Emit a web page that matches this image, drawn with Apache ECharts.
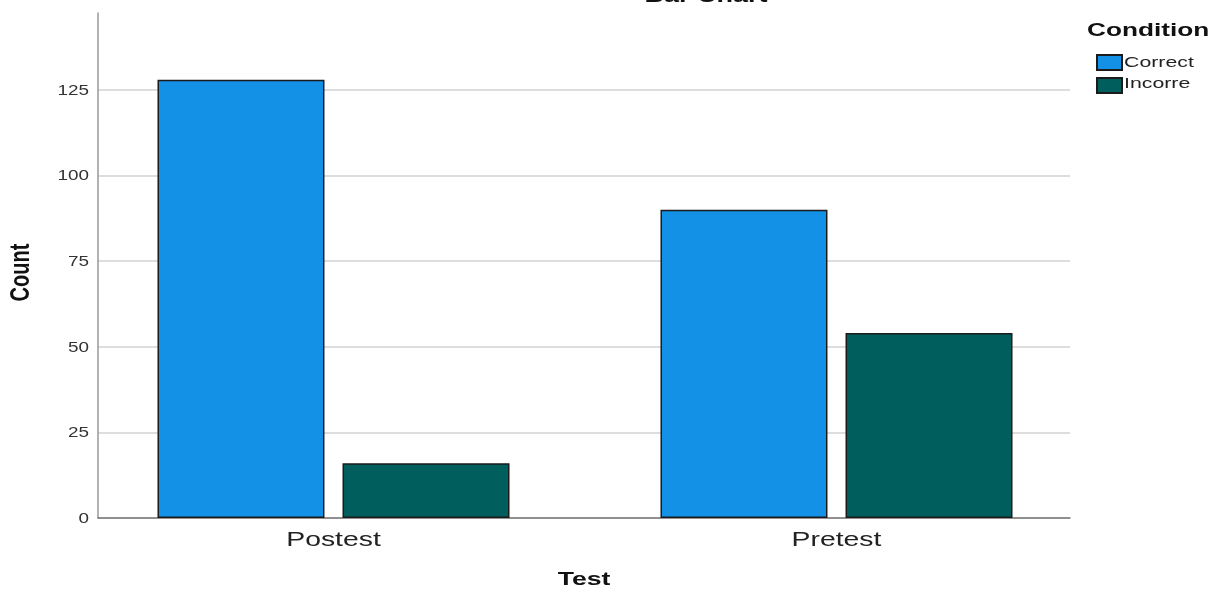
<!DOCTYPE html>
<html>
<head>
<meta charset="utf-8">
<script src="https://cdn.jsdelivr.net/npm/echarts@6/dist/echarts.min.js"></script>
<style>
html,body{margin:0;padding:0;background:#fff;}
#chart{width:1220px;height:590px;}
</style>
</head>
<body>
<div id="chart"></div>
<script>
const categories = ['Postest', 'Pretest'];
const seriesNames = ['Correct', 'Incorre'];
const correctValues = [128, 90];
const incorrectValues = [16, 54];
const yTicks = [0, 25, 50, 75, 100, 125];
const yMax = 147.5;
const titleText = 'Bar Chart';
const legendTitle = 'Condition';
const xName = 'Test';
const yName = 'Count';

const FONT = 'Liberation Sans, Arial, sans-serif';
const SX = 1.35; // horizontal stretch of the reference's text
const chart = echarts.init(document.getElementById('chart'), null, {renderer: 'canvas'});

const splitColors = yTicks.map(() => '#d2d2d2').concat(['rgba(0,0,0,0)']);

chart.setOption({
  animation: false,
  backgroundColor: '#ffffff',
  grid: [
    {left: 82, right: 132, top: 13, bottom: 72, outerBoundsMode: 'none', containLabel: false},
    {left: 98, right: 150, top: 13, bottom: 72, outerBoundsMode: 'none', containLabel: false}
  ],
  xAxis: [
    {
      gridIndex: 0, type: 'category', data: categories,
      axisLine: {show: false}, axisTick: {show: false}, axisLabel: {show: false}
    },
    {
      gridIndex: 1, type: 'category', data: categories,
      axisLine: {show: true, lineStyle: {color: '#777', width: 1.5}},
      axisTick: {show: false}, axisLabel: {show: false}
    }
  ],
  yAxis: [
    {
      gridIndex: 0, type: 'value', min: 0, max: yMax, interval: 25,
      show: false, splitLine: {show: false}
    },
    {
      gridIndex: 1, type: 'value', min: 0, max: yMax, interval: 25,
      axisLine: {show: true, lineStyle: {color: '#999', width: 1.5}},
      axisTick: {show: false}, axisLabel: {show: false},
      splitLine: {show: true, lineStyle: {color: splitColors, width: 1.5}}
    }
  ],
  legend: {
    orient: 'vertical', left: 1096, top: 54, itemWidth: 25, itemHeight: 15, itemGap: 6,
    icon: 'rect', padding: 0,
    data: seriesNames,
    formatter: () => '',
    textStyle: {fontSize: 8, lineHeight: 8, padding: 0}
  },
  series: [
    {
      name: seriesNames[0], type: 'bar', xAxisIndex: 0, yAxisIndex: 0,
      data: correctValues, barWidth: 167, barGap: '10.8%',
      itemStyle: {color: '#1391E7', borderColor: '#1b1b1b', borderWidth: 1.5}
    },
    {
      name: seriesNames[1], type: 'bar', xAxisIndex: 0, yAxisIndex: 0,
      data: incorrectValues, barWidth: 167, barGap: '10.8%',
      itemStyle: {color: '#005E5C', borderColor: '#1b1b1b', borderWidth: 1.5}
    }
  ]
});

// Text drawn as graphic elements so it can carry the reference's horizontal stretch.
const g = [];
function txt(text, x, y, font, align, vAlign, fill, extra) {
  g.push(Object.assign({
    type: 'text', x: x, y: y, scaleX: SX, z: 100,
    style: {text: text, font: font, fill: fill || '#222', align: align, verticalAlign: vAlign}
  }, extra || {}));
}
// y tick labels
yTicks.forEach(v => {
  const py = chart.convertToPixel({yAxisIndex: 1}, v);
  txt(String(v), 89, py + 1, '14px ' + FONT, 'right', 'middle', '#333');
});
// category labels
categories.forEach(c => {
  const px = chart.convertToPixel({xAxisIndex: 0}, c);
  txt(c, px, 540, '21px ' + FONT, 'center', 'middle', '#222');
});
// axis names
const gridRect = chart.getModel().getComponent('grid', 1).coordinateSystem.getRect();
txt(xName, gridRect.x + gridRect.width / 2, 580, 'bold 19px ' + FONT, 'center', 'middle', '#111', {scaleX: 1.4});
g.push({
  type: 'text', x: 22, y: gridRect.y + gridRect.height / 2 + 7, rotation: Math.PI / 2, scaleX: 1, scaleY: SX, z: 100,
  style: {text: yName, font: 'bold 20px ' + FONT, fill: '#111', align: 'center', verticalAlign: 'middle'}
});
// title (cut off at the top)
txt(titleText, 706, 6, 'bold 20px ' + FONT, 'center', 'bottom', '#111');
// legend title and labels
txt(legendTitle, 1087, 31, 'bold 19px ' + FONT, 'left', 'middle', '#111', {scaleX: 1.38});
seriesNames.forEach((n, i) => {
  txt(n, 1124, 63 + i * 21, '15px ' + FONT, 'left', 'middle', '#222', {scaleX: 1.42});
});

chart.setOption({graphic: g});
</script>
</body>
</html>
